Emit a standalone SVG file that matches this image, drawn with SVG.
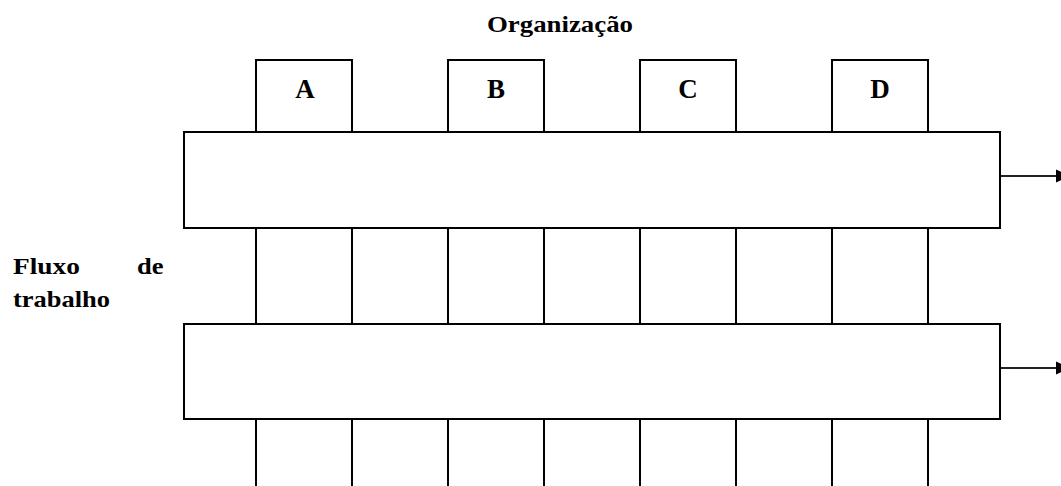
<svg xmlns="http://www.w3.org/2000/svg" width="1061" height="486" viewBox="0 0 1061 486">
  <style>
    .ln { fill: none; stroke: #000; stroke-width: 2; }
    .lane { fill: #fff; stroke: #000; stroke-width: 2; }
    .t { font-family: "Liberation Serif", "Times New Roman", serif; font-weight: bold; fill: #000; }
    .lbl { font-size: 27px; text-anchor: middle; }
    .tx { font-size: 24px; }
    .arr { stroke: #222; stroke-width: 1.8; fill: none; }
  </style>
  <defs>
    <marker id="ah" markerWidth="14" markerHeight="14" refX="0" refY="7" orient="auto" markerUnits="userSpaceOnUse">
      <path d="M0,0.5 L14,7 L0,13.5 Z" fill="#000"/>
    </marker>
  </defs>
  <rect width="1061" height="486" fill="#fff"/>

  <text id="title" class="t tx" x="487" y="32" textLength="146" lengthAdjust="spacingAndGlyphs">Organização</text>

  <g id="label-fluxo">
    <text class="t tx" x="13" y="274" textLength="67" lengthAdjust="spacingAndGlyphs">Fluxo</text>
    <text class="t tx" x="137" y="274" textLength="26.5" lengthAdjust="spacingAndGlyphs">de</text>
    <text class="t tx" x="13" y="307" textLength="97" lengthAdjust="spacingAndGlyphs">trabalho</text>
  </g>

  <g id="col-A">
    <path class="ln" d="M256,132 V60 H352 V132"/>
    <path class="ln" d="M256,228 V324 M352,228 V324 M256,420 V486 M352,420 V486"/>
    <text class="t lbl" x="305" y="98">A</text>
  </g>
  <g id="col-B">
    <path class="ln" d="M448,132 V60 H544 V132"/>
    <path class="ln" d="M448,228 V324 M544,228 V324 M448,420 V486 M544,420 V486"/>
    <text class="t lbl" x="496" y="98">B</text>
  </g>
  <g id="col-C">
    <path class="ln" d="M640,132 V60 H736 V132"/>
    <path class="ln" d="M640,228 V324 M736,228 V324 M640,420 V486 M736,420 V486"/>
    <text class="t lbl" x="688" y="98">C</text>
  </g>
  <g id="col-D">
    <path class="ln" d="M832,132 V60 H928 V132"/>
    <path class="ln" d="M832,228 V324 M928,228 V324 M832,420 V486 M928,420 V486"/>
    <text class="t lbl" x="880" y="98">D</text>
  </g>

  <g id="lane-1">
    <rect class="lane" x="184" y="132" width="816" height="96"/>
  </g>
  <g id="lane-2">
    <rect class="lane" x="184" y="324" width="816" height="95"/>
  </g>

  <g id="connectors">
    <line class="arr" x1="1001" y1="176" x2="1056" y2="176" marker-end="url(#ah)"/>
    <line class="arr" x1="1001" y1="368" x2="1056" y2="368" marker-end="url(#ah)"/>
  </g>
</svg>
